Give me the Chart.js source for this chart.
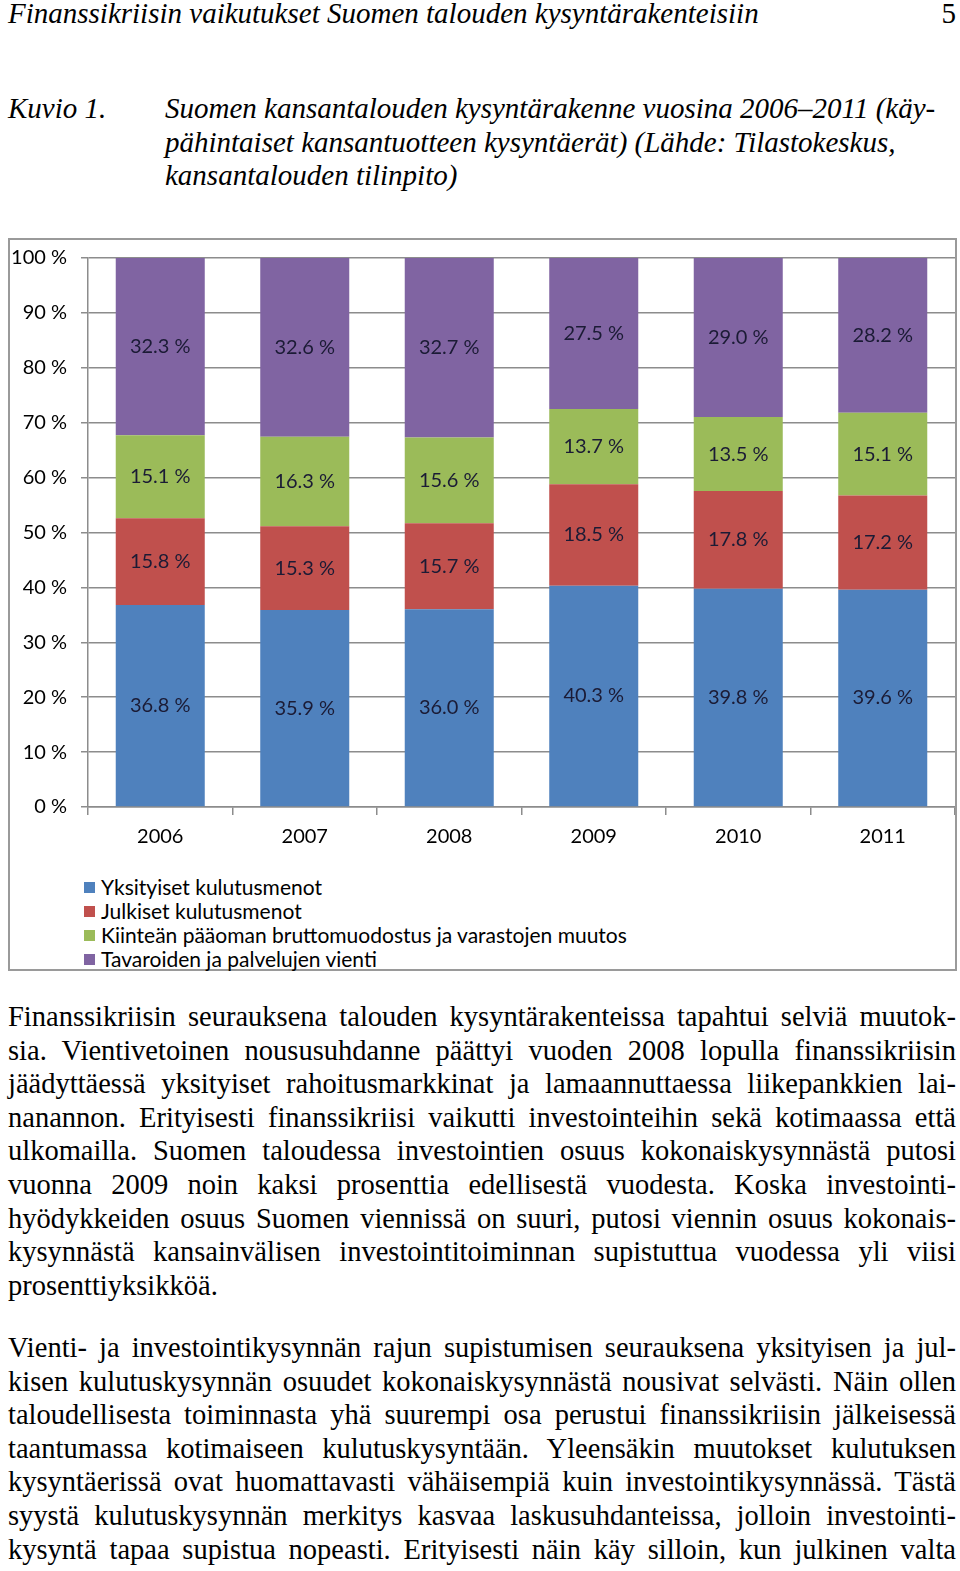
<!DOCTYPE html>
<html>
<head>
<meta charset="utf-8">
<script src="https://cdn.jsdelivr.net/npm/chart.js@4"></script>
<style>
  html, body { margin: 0; padding: 0; background: #fff; }
  body { width: 960px; height: 1571px; position: relative; overflow: hidden;
         font-family: "Liberation Serif", "Times New Roman", serif; color: #000; }
  .abs { position: absolute; }
  .line { position: absolute; left: 8px; width: 948px; font-size: 28.5px; line-height: 33.6px;
          white-space: nowrap; }
  .just { text-align: justify; text-align-last: justify; }
  .it { font-style: italic; font-size: 29px; }
  #box { position: absolute; left: 8px; top: 238px; width: 949px; height: 733px;
         box-sizing: border-box; border: 2px solid #9a9a9a; }
  #wrap { position: absolute; left: 9px; top: 240px; width: 946px; height: 620px; }
  #legend { position: absolute; left: 84px; top: 875px; font-family: Lato, sans-serif;
            font-size: 21px; line-height: 24px; }
  #legend div { display: flex; align-items: center; }
  #legend span.sw { display: inline-block; width: 11px; height: 11px; margin-right: 6px; }
</style>
</head>
<body>

<div class="line it" style="top:-3px; width:800px;">Finanssikriisin vaikutukset Suomen talouden kysyntärakenteisiin</div>
<div class="abs" style="top:-3px; left:926px; width:30px; text-align:right; font-size:29px; line-height:33.6px;">5</div>

<div class="line it" style="top:92px;">Kuvio 1.</div>
<div class="line it" style="top:92px; left:165px; width:790px;">Suomen kansantalouden kysyntärakenne vuosina 2006–2011 (käy-</div>
<div class="line it" style="top:125.6px; left:165px; width:790px;">pähintaiset kansantuotteen kysyntäerät) (Lähde: Tilastokeskus,</div>
<div class="line it" style="top:159.2px; left:165px; width:790px;">kansantalouden tilinpito)</div>

<div id="box"></div>
<div id="wrap"><canvas id="chart"></canvas></div>
<div id="legend"></div>

<div id="p1"></div>
<div id="p2"></div>

<script>
// chart data (shares of total demand, %)
const years = ["2006", "2007", "2008", "2009", "2010", "2011"];
const yksityiset = [36.8, 35.9, 36.0, 40.3, 39.8, 39.6];
const julkiset = [15.8, 15.3, 15.7, 18.5, 17.8, 17.2];
const investoinnit = [15.1, 16.3, 15.6, 13.7, 13.5, 15.1];
const vienti = [32.3, 32.6, 32.7, 27.5, 29.0, 28.2];

const seriesNames = [
  "Yksityiset kulutusmenot",
  "Julkiset kulutusmenot",
  "Kiinteän pääoman bruttomuodostus ja varastojen muutos",
  "Tavaroiden ja palvelujen vienti",
];
const seriesColors = ["#4F81BD", "#C0504D", "#9BBB59", "#8064A2"];
const series = [yksityiset, julkiset, investoinnit, vienti];

// body text, one entry per printed line
const para1 = [
  "Finanssikriisin seurauksena talouden kysyntärakenteissa tapahtui selviä muutok-",
  "sia. Vientivetoinen noususuhdanne päättyi vuoden 2008 lopulla finanssikriisin",
  "jäädyttäessä yksityiset rahoitusmarkkinat ja lamaannuttaessa liikepankkien lai-",
  "nanannon. Erityisesti finanssikriisi vaikutti investointeihin sekä kotimaassa että",
  "ulkomailla. Suomen taloudessa investointien osuus kokonaiskysynnästä putosi",
  "vuonna 2009 noin kaksi prosenttia edellisestä vuodesta. Koska investointi-",
  "hyödykkeiden osuus Suomen viennissä on suuri, putosi viennin osuus kokonais-",
  "kysynnästä kansainvälisen investointitoiminnan supistuttua vuodessa yli viisi",
  "prosenttiyksikköä.",
];
const para2 = [
  "Vienti- ja investointikysynnän rajun supistumisen seurauksena yksityisen ja jul-",
  "kisen kulutuskysynnän osuudet kokonaiskysynnästä nousivat selvästi. Näin ollen",
  "taloudellisesta toiminnasta yhä suurempi osa perustui finanssikriisin jälkeisessä",
  "taantumassa kotimaiseen kulutuskysyntään. Yleensäkin muutokset kulutuksen",
  "kysyntäerissä ovat huomattavasti vähäisempiä kuin investointikysynnässä. Tästä",
  "syystä kulutuskysynnän merkitys kasvaa laskusuhdanteissa, jolloin investointi-",
  "kysyntä tapaa supistua nopeasti. Erityisesti näin käy silloin, kun julkinen valta",
];

function writeLines(id, lines, top, lastJustified) {
  const holder = document.getElementById(id);
  lines.forEach((txt, i) => {
    const d = document.createElement("div");
    d.className = "line";
    if (i < lines.length - 1 || lastJustified) d.classList.add("just");
    d.style.top = (top + i * 33.6) + "px";
    d.textContent = txt;
    holder.appendChild(d);
  });
}
writeLines("p1", para1, 1000, false);
writeLines("p2", para2, 1331, true);

// legend
const legend = document.getElementById("legend");
seriesNames.forEach((name, i) => {
  const row = document.createElement("div");
  const sw = document.createElement("span");
  sw.className = "sw";
  sw.style.background = seriesColors[i];
  row.appendChild(sw);
  row.appendChild(document.createTextNode(name));
  legend.appendChild(row);
});

// 100 % stacked: scale each year to its total
const totals = years.map((_, j) => series.reduce((s, arr) => s + arr[j], 0));

// labels in the middle of each segment
const barLabels = {
  id: "barLabels",
  afterDatasetsDraw(chart) {
    const ctx = chart.ctx;
    ctx.save();
    ctx.font = "20px Lato";
    ctx.fillStyle = "#1b1b35";
    ctx.textAlign = "center";
    ctx.textBaseline = "middle";
    chart.data.datasets.forEach((ds, i) => {
      chart.getDatasetMeta(i).data.forEach((bar, j) => {
        const p = bar.getProps(["x", "y", "base"], true);
        ctx.fillText(ds.values[j].toFixed(1) + " %", p.x, (p.y + p.base) / 2);
      });
    });
    ctx.restore();
  },
};

const gridColor = "#8c8c8c";

new Chart(document.getElementById("chart"), {
  type: "bar",
  data: {
    labels: years,
    datasets: series.map((arr, i) => ({
      label: seriesNames[i],
      values: arr,
      data: arr.map((v, j) => (v / totals[j]) * 100),
      backgroundColor: seriesColors[i],
      borderWidth: 0,
      barPercentage: 0.616,
      categoryPercentage: 1,
    })),
  },
  options: {
    responsive: true,
    maintainAspectRatio: false,
    animation: false,
    layout: { padding: { top: 18, right: 0, left: 0, bottom: 0 } },
    plugins: { legend: { display: false }, tooltip: { enabled: false } },
    scales: {
      x: {
        stacked: true,
        afterFit: (s) => { s.height = 53; s.paddingLeft = 0; s.paddingRight = 0; },
        grid: { display: true, drawOnChartArea: false, drawTicks: true, tickLength: 8,
                color: gridColor, lineWidth: 1.5, offset: true },
        border: { display: true, color: gridColor, width: 1.5 },
        ticks: { color: "#000", font: { family: "Lato", size: 20 }, padding: 10 },
      },
      y: {
        stacked: true,
        min: 0,
        max: 100,
        afterFit: (s) => { s.width = 79; s.paddingTop = 0; s.paddingBottom = 0; },
        grid: { color: gridColor, lineWidth: 1.5, tickLength: 7 },
        border: { display: true, color: gridColor, width: 1.5 },
        ticks: { stepSize: 10, color: "#000", font: { family: "Lato", size: 20 }, padding: 14,
                 callback: (v) => v + " %" },
      },
    },
  },
  plugins: [barLabels],
});
</script>
</body>
</html>
